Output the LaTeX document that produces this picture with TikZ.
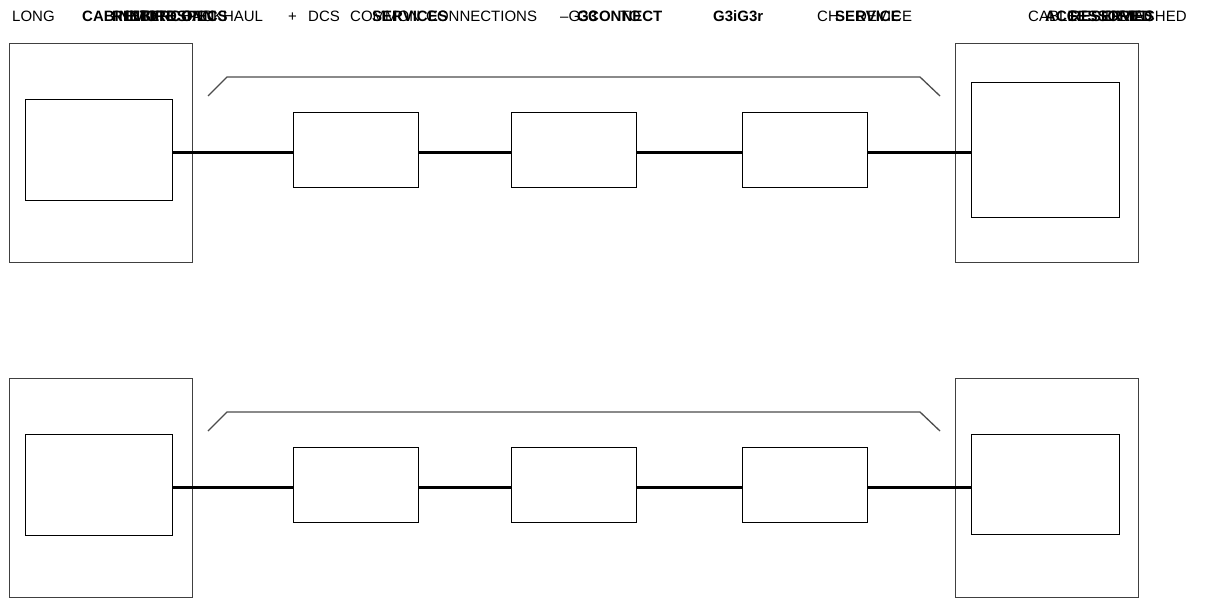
\documentclass[tikz,border=0pt]{standalone}
\usepackage{fontspec}
\setmainfont{Liberation Sans}
\begin{document}
\begin{tikzpicture}[x=1pt,y=-1pt,
  outerbox/.style={draw=black!75,line width=1pt,inner sep=0pt,outer sep=0pt,anchor=north west},
  innerbox/.style={draw=black,line width=1pt,inner sep=0pt,outer sep=0pt,anchor=north west},
  midbox/.style={draw=black,line width=1pt,inner sep=0pt,outer sep=0pt,anchor=north west,minimum width=125pt,minimum height=75pt},
  link/.style={draw=black,line width=2.2pt},
  brace/.style={draw=black!70,line width=1.3pt},
  lbl/.style={font=\fontsize{15}{17}\selectfont,anchor=base west,inner sep=0pt},
  blbl/.style={font=\fontsize{15}{17}\selectfont\bfseries,anchor=base west,inner sep=0pt}]
\useasboundingbox (0,0) rectangle (1207,597);
% top texts
\node[lbl] (t1) at (12,21) {LONG};
\node[blbl] (t2) at (82,21) {CABINET};
\node[blbl] (t3) at (112,21) {REMOTE};
\node[blbl] (t3b) at (125,21) {INTERCONN};
\node[blbl] (t4) at (140,21) {BIRDSPECS};
\node[lbl] (t5) at (182,21) {BACKHAUL};
\node[lbl] (t6) at (288,21) {+};
\node[lbl] (t7) at (308,21) {DCS};
\node[lbl] (t8) at (350,21) {COMMON};
\node[blbl] (t9) at (372,21) {SERVICES};
\node[lbl] (t10) at (426,21) {CONNECTIONS};
\node[lbl] (t12) at (560,21) {–G3};
\node[blbl] (t13) at (577,21) {G3};
\node[blbl] (t14) at (588,21) {CONNECT};
\node[lbl] (t14b) at (620,21) {TO};
\node[blbl] (t15) at (713,21) {G3iG3r};
\node[lbl] (t16) at (817,21) {CH};
\node[blbl] (t17) at (835,21) {SERVICE};
\node[lbl] (t17b) at (856,21) {DEVICE};
\node[lbl] (t18) at (1028,21) {CABLE};
\node[blbl] (t19) at (1045,21) {ACCESSORIES};
\node[blbl] (t19b) at (1070,21) {RESERVED};
\node[lbl] (t21) at (1105,21) {DETACHED};
% rows
\foreach \r/\dy in {a/0,b/335}{
  \node[outerbox,minimum width=183pt,minimum height=219pt] (lo\r) at (9,43+\dy) {};
  \node[innerbox,minimum width=147pt,minimum height=101pt] (li\r) at (25,99+\dy) {};
  \node[midbox] (m1\r) at (293,112+\dy) {};
  \node[midbox] (m2\r) at (511,112+\dy) {};
  \node[midbox] (m3\r) at (742,112+\dy) {};
  \node[outerbox,minimum width=183pt,minimum height=219pt] (ro\r) at (955,43+\dy) {};
  \coordinate (b1\r) at (208,96+\dy);
  \coordinate (b2\r) at (227,77+\dy);
  \coordinate (b3\r) at (920,77+\dy);
  \coordinate (b4\r) at (940,96+\dy);
  \draw[brace] (b1\r) -- (b2\r) -- (b3\r) -- (b4\r);
}
\node[innerbox,minimum width=148pt,minimum height=135pt] (ria) at (971,82) {};
\node[innerbox,minimum width=148pt,minimum height=100pt] (rib) at (971,434) {};
\foreach \r in {a,b}{
  \draw[link] ([yshift=-3pt]li\r.east) -- ([yshift=-3pt]m1\r.west);
  \draw[link] ([yshift=-3pt]m1\r.east) -- ([yshift=-3pt]m2\r.west);
  \draw[link] ([yshift=-3pt]m2\r.east) -- ([yshift=-3pt]m3\r.west);
  \draw[link] ([yshift=-3pt]m3\r.east) -- ([yshift=-3pt]m3\r.east -| ri\r.west);
}
\end{tikzpicture}
\end{document}
